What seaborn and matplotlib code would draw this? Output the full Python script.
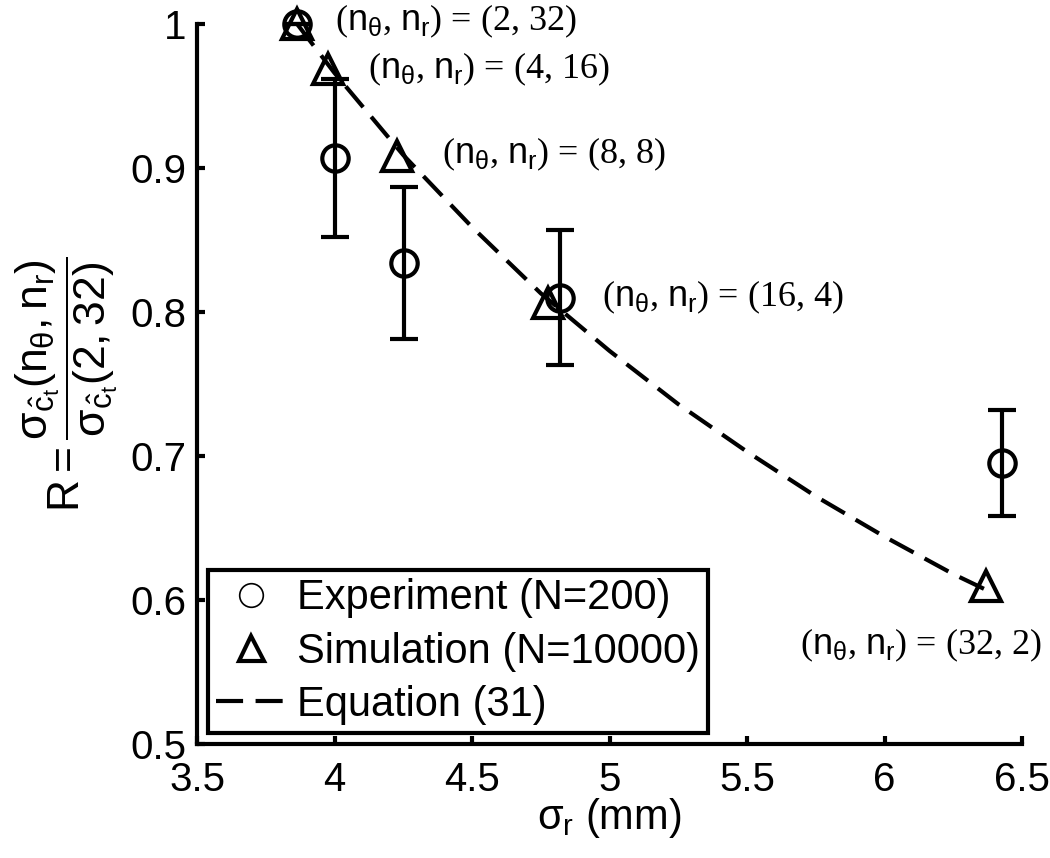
import matplotlib
matplotlib.use("Agg")
import matplotlib.pyplot as plt
from matplotlib.lines import Line2D
import seaborn as sns

# Experiment (N=200): mean ratio and half-width of the error bar
exp_sigma = [3.864, 4.000, 4.253, 4.820, 6.427]
exp_ratio = [1.000, 0.907, 0.834, 0.810, 0.695]
exp_err = [0.000, 0.055, 0.053, 0.047, 0.037]

# Simulation (N=10000)
sim_sigma = [3.864, 3.976, 4.227, 4.776, 6.370]
sim_ratio = [1.000, 0.969, 0.908, 0.806, 0.610]

# Equation (31)
eq_sigma = [3.864, 4.00, 4.25, 4.50, 4.75, 5.00, 5.25, 5.50, 5.75, 6.00, 6.25, 6.37]
eq_ratio = [1.000, 0.966, 0.909, 0.859, 0.813, 0.773, 0.736, 0.703, 0.672, 0.644, 0.618, 0.607]

config_labels = ["(2, 32)", "(4, 16)", "(8, 8)", "(16, 4)", "(32, 2)"]

x_ticks = [3.5, 4.0, 4.5, 5.0, 5.5, 6.0, 6.5]
x_tick_labels = ["3.5", "4", "4.5", "5", "5.5", "6", "6.5"]
y_ticks = [0.5, 0.6, 0.7, 0.8, 0.9, 1.0]
y_tick_labels = ["0.5", "0.6", "0.7", "0.8", "0.9", "1"]

SANS = "Liberation Sans"
SERIF = "Liberation Serif"

sns.set_theme(style="ticks")
plt.rcParams.update({
    "font.family": [SANS, "DejaVu Sans"],
    "mathtext.fontset": "custom",
    "mathtext.rm": SANS,
    "mathtext.it": SANS,
    "mathtext.sf": SANS,
    "mathtext.bf": SANS + ":bold",
    "axes.linewidth": 3,
    "axes.edgecolor": "black",
    "axes.labelcolor": "black",
    "text.color": "black",
    "xtick.color": "black",
    "ytick.color": "black",
    "figure.facecolor": "white",
    "axes.facecolor": "white",
})

fig = plt.figure(figsize=(10.5, 8.58), dpi=100)
ax = fig.add_axes([197 / 1050, 1 - 744 / 858, 825 / 1050, 720 / 858])

# dashed model curve
sns.lineplot(x=eq_sigma, y=eq_ratio, ax=ax, color="black", lw=3,
             linestyle=(0, (6.5, 3)), sort=False, estimator=None, zorder=2)

# simulation triangles
ax.plot(sim_sigma, sim_ratio, ls="none", marker="^", ms=21, mfc="none",
        mec="black", mew=3, clip_on=False, zorder=4)

# experiment circles with error bars
ax.errorbar(exp_sigma, exp_ratio, yerr=exp_err, fmt="o", ms=19, mfc="none",
            mec="black", mew=3, ecolor="black", elinewidth=3, capsize=10,
            capthick=3, clip_on=False, zorder=3)

# configuration labels next to each point
offsets = [(38, 3), (40, -1), (45, 2), (54, 6), (-186, -60)]
for sx, sy, lab, off in zip(sim_sigma, sim_ratio, config_labels, offsets):
    ax.annotate(r"($n_\theta$, $n_r$) = " + lab, (sx, sy), xytext=off,
                textcoords="offset pixels", ha="left", va="center",
                fontsize=26, family=[SERIF, "DejaVu Serif"], annotation_clip=False)

ax.set_xlim(3.5, 6.5)
ax.set_ylim(0.5, 1.0)
ax.set_xticks(x_ticks)
ax.set_xticklabels(x_tick_labels)
ax.set_yticks(y_ticks)
ax.set_yticklabels(y_tick_labels)
ax.tick_params(direction="in", length=6, width=3, labelsize=29, pad=8, colors="black")
ax.tick_params(axis="x", pad=12)
sns.despine(ax=ax)

ax.set_xlabel(r"$\sigma_r$ (mm)", fontsize=30)
ax.xaxis.set_label_coords(0.5, -0.072)
ax.set_ylabel(r"$R = \dfrac{\sigma_{\hat{c}_t}(n_\theta,n_r)}{\sigma_{\hat{c}_t}(2,32)}$",
              fontsize=32)
ax.yaxis.set_label_coords(-0.093, 0.5)

handles = [
    Line2D([], [], ls="none", marker="o", ms=17, mfc="none", mec="black", mew=1.2),
    Line2D([], [], ls="none", marker="^", ms=18, mfc="none", mec="black", mew=3),
    Line2D([], [], color="black", lw=3, linestyle=(0, (6.5, 3))),
]
labels = ["Experiment (N=200)", "Simulation (N=10000)", "Equation (31)"]
leg = ax.legend(handles, labels, loc="lower left", bbox_to_anchor=(0.013, 0.015),
                borderaxespad=0, fontsize=30, frameon=True, fancybox=False,
                edgecolor="black", framealpha=1, handlelength=1.7,
                handletextpad=0.24, labelspacing=0.32, borderpad=0.2)
leg.get_frame().set_linewidth(3)

fig.savefig("out.png", dpi=100, facecolor="white")
